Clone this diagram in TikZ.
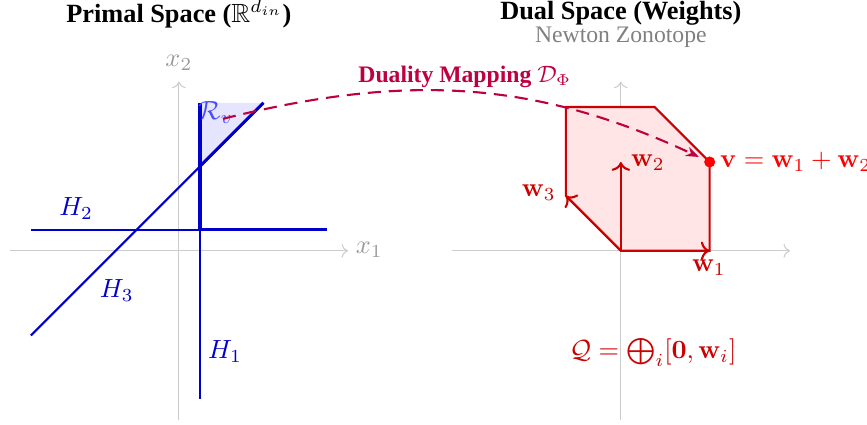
\documentclass[tikz,border=0pt]{standalone}
\usepackage[no-math]{fontspec}
\setmainfont{Liberation Serif}
\usepackage{amsmath}
\usepackage{amssymb}
\usepackage{xcolor}
\usepackage{tikz}
\usetikzlibrary{arrows.meta, positioning}

\tikzset{
	axis/.style={gray!40, ->},
	axislabel/.style={text=gray!80},
	title/.style={font=\bfseries, inner sep=0pt},
	hplane/.style={blue!80!black, thick},
	bound/.style={blue!80!black, very thick},
	zono/.style={red!80!black, thick},
	gen/.style={red!80!black, thick, ->},
	dualmap/.style={purple, thick, dash pattern=on 5pt off 3pt, -{Stealth[length=5pt]}},
}

\begin{document}
\begin{tikzpicture}[x=0.565cm, y=0.565cm]
	\useasboundingbox (-4.23,-4.11) rectangle (16.27,5.93);
	% Primal space:
	\node[title] (ptitle) at (0,5.6) {Primal Space ($\mathbb{R}^{d_{in}}$)};
	\draw[axis] (-4,0) -- (4,0);
	\draw[axis] (0,-4) -- (0,4);
	\node[axislabel] (x1) at (4.5,0.02) {$x_1$};
	\node[axislabel] (x2) at (0,4.44) {$x_2$};
	\fill[blue!10] (0.5,2) -- (0.5,3.5) -- (2,3.5) -- cycle;
	\draw[hplane] (0.5,-3.5) -- (0.5,3.5);
	\draw[hplane] (-3.5,0.5) -- (3.5,0.5);
	\draw[hplane] (-3.5,-2) -- (2,3.5);
	\draw[bound] (0.5,0.5) -- (0.5,3.5);
	\draw[bound] (0.5,0.5) -- (3.5,0.5);
	\draw[bound] (0.5,2) -- (2,3.5);
	\node[blue!80!black] (h1) at (1.09,-2.39) {$H_1$};
	\node[blue!80!black] (h2) at (-2.43,0.99) {$H_2$};
	\node[blue!80!black] (h3) at (-1.47,-0.95) {$H_3$};
	\node[blue!70] (rv) at (0.87,3.26) {$\mathcal{R}_v$};
	% Dual space:
	\node[title] (dtitle) at (10.45,5.62) {Dual Space (Weights)};
	\node[gray, font=\small] (dsub) at (10.45,5.05) {Newton Zonotope};
	\draw[axis] (6.45,0) -- (14.45,0);
	\draw[axis] (10.45,-4) -- (10.45,4);
	\coordinate (O2) at (10.45,0);
	\coordinate (W1) at (12.55,0);
	\coordinate (W2) at (10.45,2.1);
	\coordinate (W3) at (9.15,1.3);
	\filldraw[zono, fill=red!10] (O2) -- (W1) -- (12.55,2.1) -- (11.25,3.4) -- (9.15,3.4) -- (W3) -- cycle;
	\draw[gen] (O2) -- (W1);
	\draw[gen] (O2) -- (W2);
	\draw[gen] (O2) -- (W3);
	\node[red!80!black] (w1) at (12.53,-0.4) {$\mathbf{w}_1$};
	\node[red!80!black] (w2) at (11.09,2.08) {$\mathbf{w}_2$};
	\node[red!80!black] (w3) at (8.51,1.37) {$\mathbf{w}_3$};
	\node[circle, fill=red, inner sep=0pt, minimum size=4.2pt] (v) at (12.55,2.1) {};
	\node[red, anchor=west, inner sep=0pt, xshift=1.5pt] (vlab) at (v.east) {$\mathbf{v} = \mathbf{w}_1 + \mathbf{w}_2$};
	\node[red!80!black] (qlab) at (11.21,-2.41) {$\mathcal{Q} = \bigoplus_i [\mathbf{0}, \mathbf{w}_i]$};
	% Duality mapping:
	\coordinate (dstart) at (1.04,3.12);
	\draw[dualmap, shorten >=2.2pt] (dstart) to[out=14, in=155] (v);
	\node[purple, font=\small\bfseries] (dlab) at (6.76,4.11) {Duality Mapping $\mathcal{D}_\Phi$};
\end{tikzpicture}
\end{document}
